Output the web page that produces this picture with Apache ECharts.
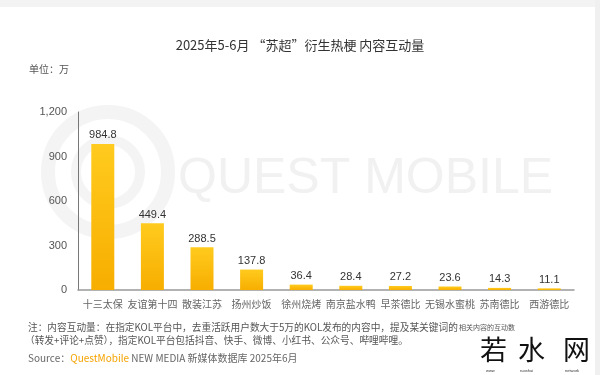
<!DOCTYPE html>
<html><head><meta charset="utf-8">
<script src="https://cdn.jsdelivr.net/npm/echarts@6/dist/echarts.min.js"></script>
<style>html,body{margin:0;padding:0;background:#fff}#c{width:600px;height:375px}</style>
</head><body><div id="c"></div>
<script>
const categories = ['十三太保','友谊第十四','散装江苏','扬州炒饭','徐州烧烤','南京盐水鸭','早茶德比','无锡水蜜桃','苏南德比','西游德比'];
const values = [984.8, 449.4, 288.5, 137.8, 36.4, 28.4, 27.2, 23.6, 14.3, 11.1];
const yTicks = [0, 300, 600, 900, 1200];

const cjk = '"Noto Sans CJK SC", "Liberation Sans", sans-serif';
const chart = echarts.init(document.getElementById('c'));
chart.setOption({
  backgroundColor: '#fff',
  animation: false,
  title: {
    text: '2025年5-6月 “苏超”衍生热梗 内容互动量',
    left: 'center', top: 34,
    textStyle: { fontFamily: cjk, fontSize: 13, fontWeight: 'normal', color: '#333' }
  },
  grid: { left: 78, right: 26, top: 112, bottom: 85 },
  xAxis: {
    type: 'category', data: categories,
    axisLine: { lineStyle: { color: '#999', width: 1.5 } },
    axisTick: { show: false },
    axisLabel: { interval: 0, fontFamily: cjk, fontSize: 10, color: '#666', margin: 9 }
  },
  yAxis: {
    type: 'value', min: yTicks[0], max: yTicks[yTicks.length - 1], interval: 300,
    splitLine: { show: false },
    axisLine: { show: true, lineStyle: { color: '#777' } },
    axisTick: { show: false },
    axisLabel: {
      fontFamily: '"Liberation Sans", sans-serif', fontSize: 11, color: '#555', margin: 11,
      formatter: v => v.toLocaleString('en-US')
    }
  },
  series: [{
    type: 'bar', data: values, barWidth: 23,
    itemStyle: {
      color: new echarts.graphic.LinearGradient(0, 0, 0, 1, [
        { offset: 0, color: '#FFCB1E' }, { offset: 1, color: '#F7AE00' }
      ])
    },
    label: {
      show: true, position: 'top', distance: 3,
      fontFamily: '"Liberation Sans", sans-serif', fontSize: 11, color: '#333',
      formatter: p => p.value.toFixed(1)
    }
  }],
  graphic: [
    { type: 'rect', z: -10, shape: { x: 0, y: 0, width: 600, height: 7 }, style: { fill: '#f3f3f3' } },
    { type: 'rect', z: -10, shape: { x: 595, y: 0, width: 5, height: 375 }, style: { fill: '#f0f0f0' } },
    { type: 'circle', z: -5, shape: { cx: 108, cy: 172, r: 60 }, style: { fill: 'none', stroke: '#f4f4f4', lineWidth: 14 } },
    { type: 'circle', z: -5, shape: { cx: 108, cy: 172, r: 32 }, style: { fill: 'none', stroke: '#f4f4f4', lineWidth: 10 } },
    { type: 'text', z: -5, left: 178, top: 154, style: { text: 'QUEST MOBILE', font: '50px "Liberation Sans", sans-serif', fill: '#f1f1f1' } },
    { type: 'text', left: 29, top: 64, style: { text: '单位：万', font: '10px ' + cjk, fill: '#555' } },
    { type: 'text', left: 28, top: 322, style: { text: '注：内容互动量：在指定KOL平台中，去重活跃用户数大于5万的KOL发布的内容中，提及某关键词的', font: '9.7px ' + cjk, fill: '#555' } },
    { type: 'text', left: 459, top: 324, style: { text: '相关内容的互动数', font: '7px ' + cjk, fill: '#555' } },
    { type: 'text', left: 25, top: 335, style: { text: '（转发+评论+点赞），指定KOL平台包括抖音、快手、微博、小红书、公众号、哔哩哔哩。', font: '9.7px ' + cjk, fill: '#555' } },
    { type: 'text', left: 28, top: 353, style: { rich: {
        g: { fontFamily: cjk, fontSize: 10, fill: '#666' },
        o: { fontFamily: cjk, fontSize: 10, fill: '#F5A300' }
      }, text: '{g|Source：}{o|QuestMobile}{g| NEW MEDIA 新媒体数据库 2025年6月}' } },
    { type: 'text', left: 480, top: 336, style: { text: '若', font: '27px ' + cjk, fill: '#111' } },
    { type: 'text', left: 518, top: 336, style: { text: '水', font: '27px ' + cjk, fill: '#111' } },
    { type: 'text', left: 563, top: 336, style: { text: '网', font: '27px ' + cjk, fill: '#111' } },
    { type: 'text', left: 486, top: 369, style: { text: 'www', font: '4px "Liberation Sans", sans-serif', fill: '#333' } },
    { type: 'text', left: 520, top: 369, style: { text: 'ruoshui', font: '4px "Liberation Sans", sans-serif', fill: '#333' } },
    { type: 'text', left: 565, top: 369, style: { text: 'network', font: '4px "Liberation Sans", sans-serif', fill: '#333' } }
  ]
});
</script></body></html>
